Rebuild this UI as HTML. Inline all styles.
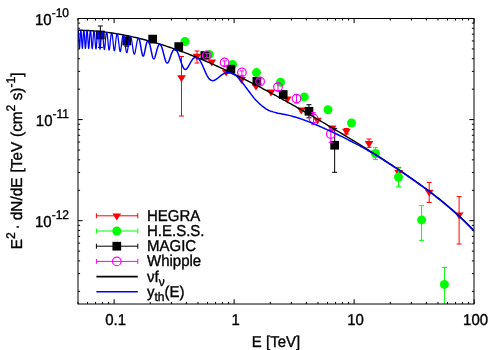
<!DOCTYPE html>
<html><head><meta charset="utf-8"><title>plot</title>
<style>
html,body{margin:0;padding:0;background:#fff;}
svg{display:block;will-change:transform;}
text{font-family:"Liberation Sans",sans-serif;fill:#000;stroke:#000;stroke-width:0.35px;text-rendering:geometricPrecision;}
</style></head><body>
<svg width="500" height="350" viewBox="0 0 500 350">
<rect x="0" y="0" width="500" height="350" fill="#fff"/>

<path d="M78.00,304.0v-2.1M78.00,18.5v2.1M87.50,304.0v-2.1M87.50,18.5v2.1M95.54,304.0v-2.1M95.54,18.5v2.1M102.49,304.0v-2.1M102.49,18.5v2.1M108.63,304.0v-2.1M108.63,18.5v2.1M114.12,304.0v-4.7M114.12,18.5v4.7M150.25,304.0v-2.1M150.25,18.5v2.1M171.38,304.0v-2.1M171.38,18.5v2.1M186.37,304.0v-2.1M186.37,18.5v2.1M198.00,304.0v-2.1M198.00,18.5v2.1M207.50,304.0v-2.1M207.50,18.5v2.1M215.54,304.0v-2.1M215.54,18.5v2.1M222.49,304.0v-2.1M222.49,18.5v2.1M228.63,304.0v-2.1M228.63,18.5v2.1M234.12,304.0v-4.7M234.12,18.5v4.7M270.25,304.0v-2.1M270.25,18.5v2.1M291.38,304.0v-2.1M291.38,18.5v2.1M306.37,304.0v-2.1M306.37,18.5v2.1M318.00,304.0v-2.1M318.00,18.5v2.1M327.50,304.0v-2.1M327.50,18.5v2.1M335.54,304.0v-2.1M335.54,18.5v2.1M342.49,304.0v-2.1M342.49,18.5v2.1M348.63,304.0v-2.1M348.63,18.5v2.1M354.12,304.0v-4.7M354.12,18.5v4.7M390.25,304.0v-2.1M390.25,18.5v2.1M411.38,304.0v-2.1M411.38,18.5v2.1M426.37,304.0v-2.1M426.37,18.5v2.1M438.00,304.0v-2.1M438.00,18.5v2.1M447.50,304.0v-2.1M447.50,18.5v2.1M455.54,304.0v-2.1M455.54,18.5v2.1M462.49,304.0v-2.1M462.49,18.5v2.1M468.63,304.0v-2.1M468.63,18.5v2.1M474.12,304.0v-4.7M474.12,18.5v4.7M78.0,291.37h2.1M474.0,291.37h-2.1M78.0,273.57h2.1M474.0,273.57h-2.1M78.0,260.93h2.1M474.0,260.93h-2.1M78.0,251.14h2.1M474.0,251.14h-2.1M78.0,243.13h2.1M474.0,243.13h-2.1M78.0,236.36h2.1M474.0,236.36h-2.1M78.0,230.50h2.1M474.0,230.50h-2.1M78.0,225.33h2.1M474.0,225.33h-2.1M78.0,220.70h4.7M474.0,220.70h-4.7M78.0,190.27h2.1M474.0,190.27h-2.1M78.0,172.46h2.1M474.0,172.46h-2.1M78.0,159.83h2.1M474.0,159.83h-2.1M78.0,150.04h2.1M474.0,150.04h-2.1M78.0,142.03h2.1M474.0,142.03h-2.1M78.0,135.26h2.1M474.0,135.26h-2.1M78.0,129.40h2.1M474.0,129.40h-2.1M78.0,124.23h2.1M474.0,124.23h-2.1M78.0,119.60h4.7M474.0,119.60h-4.7M78.0,89.17h2.1M474.0,89.17h-2.1M78.0,71.36h2.1M474.0,71.36h-2.1M78.0,58.73h2.1M474.0,58.73h-2.1M78.0,48.93h2.1M474.0,48.93h-2.1M78.0,40.93h2.1M474.0,40.93h-2.1M78.0,34.16h2.1M474.0,34.16h-2.1M78.0,28.30h2.1M474.0,28.30h-2.1M78.0,23.13h2.1M474.0,23.13h-2.1M78.0,18.50h4.7M474.0,18.50h-4.7" stroke="#000" stroke-width="1" fill="none"/>
<text transform="translate(115.62,324.5) scale(1,1.05)" font-size="15.0" text-anchor="middle">0.1</text>
<text transform="translate(235.62,324.5) scale(1,1.05)" font-size="15.0" text-anchor="middle">1</text>
<text transform="translate(355.62,324.5) scale(1,1.05)" font-size="15.0" text-anchor="middle">10</text>
<text transform="translate(475.62,324.5) scale(1,1.05)" font-size="15.0" text-anchor="middle">100</text>
<text transform="translate(69,24.80) scale(1,1.05)" font-size="15.0" text-anchor="end">10<tspan font-size="12.0" dy="-7.5">-10</tspan></text>
<text transform="translate(69,125.90) scale(1,1.05)" font-size="15.0" text-anchor="end">10<tspan font-size="12.0" dy="-7.5">-11</tspan></text>
<text transform="translate(69,227.00) scale(1,1.05)" font-size="15.0" text-anchor="end">10<tspan font-size="12.0" dy="-7.5">-12</tspan></text>
<text transform="translate(276,346.5) scale(1,1.05)" font-size="15.0" text-anchor="middle">E [TeV]</text>
<text transform="translate(21.7,160.8) rotate(-90) scale(1.02,1.05)" font-size="15.0" text-anchor="middle">E<tspan font-size="12.0" dy="-6.7">2</tspan><tspan dy="6.7" dx="-1.6"> · dN/dE</tspan><tspan dx="0.9"> [TeV</tspan><tspan dx="0.7"> (cm</tspan><tspan font-size="12.0" dy="-6.7">2</tspan><tspan dy="6.7"> s)</tspan><tspan font-size="12.0" dy="-6.7">-1</tspan><tspan dy="6.7">]</tspan></text>
<clipPath id="c"><rect x="78" y="18.5" width="396" height="285.5"/></clipPath>
<g clip-path="url(#c)">
<path d="M181.50,56.50V116.00M179.00,56.50h5.0M179.00,116.00h5.0" stroke="#f00" stroke-width="1" fill="none"/>
<path d="M197.00,51.00V63.00M194.50,51.00h5.0M194.50,63.00h5.0" stroke="#f00" stroke-width="1" fill="none"/>
<path d="M346.40,128.50V134.00M343.90,128.50h5.0M343.90,134.00h5.0" stroke="#f00" stroke-width="1" fill="none"/>
<path d="M369.00,139.00V147.30M366.50,139.00h5.0M366.50,147.30h5.0" stroke="#f00" stroke-width="1" fill="none"/>
<path d="M398.70,167.40V177.00M396.20,167.40h5.0M396.20,177.00h5.0" stroke="#f00" stroke-width="1" fill="none"/>
<path d="M429.20,182.40V202.50M426.70,182.40h5.0M426.70,202.50h5.0" stroke="#f00" stroke-width="1" fill="none"/>
<path d="M459.10,196.60V244.00M456.60,196.60h5.0M456.60,244.00h5.0" stroke="#f00" stroke-width="1" fill="none"/>
<path d="M177.15,75.30h8.7L181.50,82.20z" fill="#f00"/>
<path d="M192.65,53.70h8.7L197.00,60.60z" fill="#f00"/>
<path d="M207.45,59.50h8.7L211.80,66.40z" fill="#f00"/>
<path d="M221.85,69.70h8.7L226.20,76.60z" fill="#f00"/>
<path d="M237.15,77.10h8.7L241.50,84.00z" fill="#f00"/>
<path d="M251.65,83.70h8.7L256.00,90.60z" fill="#f00"/>
<path d="M266.65,89.50h8.7L271.00,96.40z" fill="#f00"/>
<path d="M282.95,96.50h8.7L287.30,103.40z" fill="#f00"/>
<path d="M296.95,107.50h8.7L301.30,114.40z" fill="#f00"/>
<path d="M313.15,117.70h8.7L317.50,124.60z" fill="#f00"/>
<path d="M327.65,125.50h8.7L332.00,132.40z" fill="#f00"/>
<path d="M342.05,128.80h8.7L346.40,135.70z" fill="#f00"/>
<path d="M364.65,141.00h8.7L369.00,147.90z" fill="#f00"/>
<path d="M394.35,170.00h8.7L398.70,176.90z" fill="#f00"/>
<path d="M424.85,189.70h8.7L429.20,196.60z" fill="#f00"/>
<path d="M454.75,212.50h8.7L459.10,219.40z" fill="#f00"/>
<path d="M375.50,147.70V159.60M373.00,147.70h5.0M373.00,159.60h5.0" stroke="#0f0" stroke-width="1" fill="none"/>
<path d="M398.50,168.00V186.80M396.00,168.00h5.0M396.00,186.80h5.0" stroke="#0f0" stroke-width="1" fill="none"/>
<path d="M421.60,205.60V240.40M419.10,205.60h5.0M419.10,240.40h5.0" stroke="#0f0" stroke-width="1" fill="none"/>
<path d="M444.40,267.40V304.00M441.90,267.40h5.0" stroke="#0f0" stroke-width="1" fill="none"/>
<circle cx="185" cy="41.5" r="4.5" fill="#0f0"/>
<circle cx="209.2" cy="54.5" r="4.5" fill="#0f0"/>
<circle cx="232.5" cy="64.5" r="4.5" fill="#0f0"/>
<circle cx="256.5" cy="72.6" r="4.5" fill="#0f0"/>
<circle cx="280.5" cy="82.3" r="4.5" fill="#0f0"/>
<circle cx="304.3" cy="96.9" r="4.5" fill="#0f0"/>
<circle cx="328" cy="109.7" r="4.5" fill="#0f0"/>
<circle cx="351.5" cy="123" r="4.5" fill="#0f0"/>
<circle cx="375.5" cy="153.5" r="4.5" fill="#0f0"/>
<circle cx="398.5" cy="177" r="4.5" fill="#0f0"/>
<circle cx="421.6" cy="219.9" r="4.5" fill="#0f0"/>
<circle cx="444.4" cy="284.4" r="4.5" fill="#0f0"/>
<path d="M100.35,26.00V47.40M97.85,26.00h5.0M97.85,47.40h5.0" stroke="#000" stroke-width="1" fill="none"/>
<path d="M126.80,36.00V46.20M124.30,36.00h5.0M124.30,46.20h5.0" stroke="#000" stroke-width="1" fill="none"/>
<path d="M308.95,104.70V117.80M306.45,104.70h5.0M306.45,117.80h5.0" stroke="#000" stroke-width="1" fill="none"/>
<path d="M334.65,128.40V172.30M332.15,128.40h5.0M332.15,172.30h5.0" stroke="#000" stroke-width="1" fill="none"/>
<rect x="96.00" y="30.65" width="8.7" height="8.7" fill="#000"/>
<rect x="122.45" y="36.65" width="8.7" height="8.7" fill="#000"/>
<rect x="148.30" y="34.75" width="8.7" height="8.7" fill="#000"/>
<rect x="174.40" y="42.25" width="8.7" height="8.7" fill="#000"/>
<rect x="200.50" y="51.15" width="8.7" height="8.7" fill="#000"/>
<rect x="226.55" y="64.85" width="8.7" height="8.7" fill="#000"/>
<rect x="252.50" y="76.95" width="8.7" height="8.7" fill="#000"/>
<rect x="278.85" y="90.15" width="8.7" height="8.7" fill="#000"/>
<rect x="304.60" y="106.90" width="8.7" height="8.7" fill="#000"/>
<rect x="330.30" y="140.90" width="8.7" height="8.7" fill="#000"/>
<path d="M206.80,53.40V57.60M204.60,53.40h4.4M204.60,57.60h4.4" stroke="#f0f" stroke-width="1" fill="none"/>
<path d="M224.60,60.90V65.70M222.40,60.90h4.4M222.40,65.70h4.4" stroke="#f0f" stroke-width="1" fill="none"/>
<path d="M241.90,70.90V75.40M239.70,70.90h4.4M239.70,75.40h4.4" stroke="#f0f" stroke-width="1" fill="none"/>
<path d="M260.10,79.00V84.00M257.90,79.00h4.4M257.90,84.00h4.4" stroke="#f0f" stroke-width="1" fill="none"/>
<path d="M278.00,83.60V90.50M275.80,83.60h4.4M275.80,90.50h4.4" stroke="#f0f" stroke-width="1" fill="none"/>
<path d="M296.50,94.50V102.90M294.30,94.50h4.4M294.30,102.90h4.4" stroke="#f0f" stroke-width="1" fill="none"/>
<path d="M313.50,112.50V124.50M311.30,112.50h4.4M311.30,124.50h4.4" stroke="#f0f" stroke-width="1" fill="none"/>
<path d="M330.80,128.00V142.30M328.60,128.00h4.4M328.60,142.30h4.4" stroke="#f0f" stroke-width="1" fill="none"/>
<circle cx="206.8" cy="55.5" r="4.3" fill="none" stroke="#f0f" stroke-width="1.2"/>
<circle cx="224.6" cy="62.4" r="4.3" fill="none" stroke="#f0f" stroke-width="1.2"/>
<circle cx="241.9" cy="72.4" r="4.3" fill="none" stroke="#f0f" stroke-width="1.2"/>
<circle cx="260.1" cy="81.5" r="4.3" fill="none" stroke="#f0f" stroke-width="1.2"/>
<circle cx="278" cy="87" r="4.3" fill="none" stroke="#f0f" stroke-width="1.2"/>
<circle cx="296.5" cy="98.6" r="4.3" fill="none" stroke="#f0f" stroke-width="1.2"/>
<circle cx="313.5" cy="118.5" r="4.3" fill="none" stroke="#f0f" stroke-width="1.2"/>
<circle cx="330.8" cy="134" r="4.3" fill="none" stroke="#f0f" stroke-width="1.2"/>
<path d="M78.00,30.24 L79.99,30.27 L81.98,30.32 L83.97,30.38 L85.96,30.46 L87.95,30.56 L89.94,30.67 L91.93,30.80 L93.92,30.95 L95.91,31.11 L97.90,31.29 L99.89,31.49 L101.88,31.70 L103.87,31.92 L105.86,32.16 L107.85,32.42 L109.84,32.69 L111.83,32.98 L113.82,33.28 L115.81,33.60 L117.80,33.93 L119.79,34.28 L121.78,34.64 L123.77,35.01 L125.76,35.40 L127.75,35.80 L129.74,36.22 L131.73,36.65 L133.72,37.09 L135.71,37.55 L137.70,38.02 L139.69,38.51 L141.68,39.00 L143.67,39.51 L145.66,40.03 L147.65,40.57 L149.64,41.12 L151.63,41.68 L153.62,42.25 L155.61,42.83 L157.60,43.43 L159.59,44.04 L161.58,44.66 L163.57,45.29 L165.56,45.93 L167.55,46.59 L169.54,47.25 L171.53,47.93 L173.52,48.62 L175.51,49.32 L177.50,50.02 L179.49,50.74 L181.48,51.47 L183.47,52.21 L185.46,52.96 L187.45,53.72 L189.44,54.49 L191.43,55.27 L193.42,56.06 L195.41,56.86 L197.40,57.67 L199.39,58.49 L201.38,59.31 L203.37,60.15 L205.36,60.99 L207.35,61.85 L209.34,62.71 L211.33,63.58 L213.32,64.46 L215.31,65.34 L217.30,66.24 L219.29,67.14 L221.28,68.05 L223.27,68.97 L225.26,69.89 L227.25,70.83 L229.24,71.77 L231.23,72.72 L233.22,73.67 L235.21,74.63 L237.20,75.60 L239.19,76.58 L241.18,77.56 L243.17,78.55 L245.16,79.54 L247.15,80.54 L249.14,81.55 L251.13,82.56 L253.12,83.58 L255.11,84.61 L257.10,85.64 L259.09,86.68 L261.08,87.72 L263.07,88.77 L265.06,89.82 L267.05,90.88 L269.04,91.94 L271.03,93.01 L273.02,94.08 L275.01,95.16 L276.99,96.25 L278.98,97.33 L280.97,98.42 L282.96,99.52 L284.95,100.62 L286.94,101.73 L288.93,102.84 L290.92,103.95 L292.91,105.07 L294.90,106.19 L296.89,107.32 L298.88,108.44 L300.87,109.58 L302.86,110.71 L304.85,111.85 L306.84,113.00 L308.83,114.15 L310.82,115.30 L312.81,116.45 L314.80,117.61 L316.79,118.77 L318.78,119.93 L320.77,121.10 L322.76,122.27 L324.75,123.45 L326.74,124.62 L328.73,125.80 L330.72,126.99 L332.71,128.17 L334.70,129.36 L336.69,130.55 L338.68,131.75 L340.67,132.95 L342.66,134.15 L344.65,135.36 L346.64,136.56 L348.63,137.77 L350.62,138.99 L352.61,140.21 L354.60,141.43 L356.59,142.65 L358.58,143.88 L360.57,145.11 L362.56,146.35 L364.55,147.59 L366.54,148.83 L368.53,150.08 L370.52,151.33 L372.51,152.58 L374.50,153.84 L376.49,155.11 L378.48,156.38 L380.47,157.65 L382.46,158.93 L384.45,160.21 L386.44,161.50 L388.43,162.80 L390.42,164.10 L392.41,165.41 L394.40,166.72 L396.39,168.04 L398.38,169.37 L400.37,170.70 L402.36,172.05 L404.35,173.40 L406.34,174.76 L408.33,176.13 L410.32,177.51 L412.31,178.89 L414.30,180.29 L416.29,181.70 L418.28,183.12 L420.27,184.55 L422.26,186.00 L424.25,187.46 L426.24,188.93 L428.23,190.41 L430.22,191.91 L432.21,193.43 L434.20,194.96 L436.19,196.51 L438.18,198.08 L440.17,199.67 L442.16,201.28 L444.15,202.90 L446.14,204.55 L448.13,206.23 L450.12,207.92 L452.11,209.64 L454.10,211.39 L456.09,213.17 L458.08,214.97 L460.07,216.80 L462.06,218.67 L464.05,220.56 L466.04,222.50 L468.03,224.46 L470.02,226.47 L472.01,228.51 L474.00,230.60" stroke="#000" stroke-width="1.4" fill="none" stroke-linejoin="round"/>
<path d="M78.00,30.69 L78.10,30.69 L78.20,30.70 L78.30,31.36 L78.40,32.43 L78.50,33.83 L78.60,35.49 L78.70,37.37 L78.80,39.38 L78.90,41.42 L79.00,43.40 L79.10,45.19 L79.20,46.67 L79.30,47.73 L79.40,48.30 L79.50,48.31 L79.60,47.79 L79.70,46.77 L79.80,45.34 L79.90,43.60 L80.00,41.68 L80.10,39.68 L80.20,37.72 L80.30,35.87 L80.40,34.22 L80.50,32.81 L80.60,31.69 L80.70,30.89 L80.80,30.74 L80.90,30.74 L81.00,30.74 L81.10,31.08 L81.20,31.96 L81.30,33.14 L81.40,34.59 L81.50,36.26 L81.60,38.08 L81.70,40.00 L81.80,41.93 L81.90,43.77 L82.00,45.42 L82.10,46.78 L82.20,47.76 L82.30,48.29 L82.40,48.34 L82.50,47.90 L82.60,47.01 L82.70,45.74 L82.80,44.18 L82.90,42.41 L83.00,40.55 L83.10,38.68 L83.20,36.88 L83.30,35.21 L83.40,33.74 L83.50,32.50 L83.60,31.53 L83.70,30.85 L83.80,30.83 L83.90,30.83 L84.00,30.83 L84.10,31.15 L84.20,31.97 L84.30,33.05 L84.40,34.38 L84.50,35.91 L84.60,37.59 L84.70,39.38 L84.80,41.20 L84.90,42.97 L85.00,44.63 L85.10,46.07 L85.20,47.22 L85.30,48.01 L85.40,48.39 L85.50,48.34 L85.60,47.86 L85.70,46.99 L85.80,45.79 L85.90,44.33 L86.00,42.68 L86.10,40.94 L86.20,39.18 L86.30,37.47 L86.40,35.86 L86.50,34.41 L86.60,33.16 L86.70,32.12 L86.80,31.33 L86.90,30.96 L87.00,30.96 L87.10,30.97 L87.20,30.97 L87.30,31.38 L87.40,32.17 L87.50,33.20 L87.60,34.44 L87.70,35.87 L87.80,37.43 L87.90,39.09 L88.00,40.79 L88.10,42.48 L88.20,44.08 L88.30,45.53 L88.40,46.75 L88.50,47.69 L88.60,48.28 L88.70,48.51 L88.80,48.36 L88.90,47.84 L89.00,46.98 L89.10,45.83 L89.20,44.46 L89.30,42.94 L89.40,41.32 L89.50,39.67 L89.60,38.05 L89.70,36.52 L89.80,35.11 L89.90,33.86 L90.00,32.79 L90.10,31.93 L90.20,31.29 L90.30,31.15 L90.40,31.15 L90.50,31.16 L90.60,31.17 L90.70,31.61 L90.80,32.36 L90.90,33.31 L91.00,34.45 L91.10,35.75 L91.20,37.18 L91.30,38.71 L91.40,40.30 L91.50,41.88 L91.60,43.42 L91.70,44.86 L91.80,46.14 L91.90,47.20 L92.00,48.00 L92.10,48.49 L92.20,48.66 L92.30,48.50 L92.40,48.02 L92.50,47.24 L92.60,46.21 L92.70,44.97 L92.80,43.58 L92.90,42.10 L93.00,40.57 L93.10,39.05 L93.20,37.58 L93.30,36.20 L93.40,34.94 L93.50,33.82 L93.60,32.87 L93.70,32.10 L93.80,31.52 L93.90,31.40 L94.00,31.41 L94.10,31.41 L94.20,31.42 L94.30,31.69 L94.40,32.32 L94.50,33.14 L94.60,34.12 L94.70,35.25 L94.80,36.52 L94.90,37.88 L95.00,39.32 L95.10,40.80 L95.20,42.27 L95.30,43.70 L95.40,45.03 L95.50,46.23 L95.60,47.24 L95.70,48.04 L95.80,48.58 L95.90,48.85 L96.00,48.83 L96.10,48.53 L96.20,47.96 L96.30,47.15 L96.40,46.13 L96.50,44.95 L96.60,43.65 L96.70,42.27 L96.80,40.86 L96.90,39.45 L97.00,38.09 L97.10,36.79 L97.20,35.59 L97.30,34.52 L97.40,33.57 L97.50,32.78 L97.60,32.15 L97.70,31.72 L97.80,31.73 L97.90,31.74 L98.00,31.75 L98.10,31.76 L98.20,32.02 L98.30,32.60 L98.40,33.34 L98.50,34.22 L98.60,35.23 L98.70,36.37 L98.80,37.59 L98.90,38.89 L99.00,40.24 L99.10,41.61 L99.20,42.96 L99.30,44.26 L99.40,45.48 L99.50,46.57 L99.60,47.51 L99.70,48.26 L99.80,48.80 L99.90,49.10 L100.00,49.16 L100.10,48.98 L100.20,48.56 L100.30,47.93 L100.40,47.10 L100.50,46.11 L100.60,45.00 L100.70,43.79 L100.80,42.52 L100.90,41.22 L101.00,39.93 L101.10,38.67 L101.20,37.47 L101.30,36.34 L101.40,35.31 L101.50,34.39 L101.60,33.60 L101.70,32.93 L101.80,32.41 L101.90,32.15 L102.00,32.16 L102.10,32.17 L102.20,32.18 L102.30,32.19 L102.40,32.38 L102.50,32.88 L102.60,33.52 L102.70,34.29 L102.80,35.18 L102.90,36.16 L103.00,37.24 L103.10,38.40 L103.20,39.61 L103.30,40.85 L103.40,42.10 L103.50,43.34 L103.60,44.54 L103.70,45.67 L103.80,46.70 L103.90,47.61 L104.00,48.36 L104.10,48.95 L104.20,49.34 L104.30,49.54 L104.40,49.53 L104.50,49.31 L104.60,48.91 L104.70,48.32 L104.80,47.57 L104.90,46.68 L105.00,45.69 L105.10,44.60 L105.20,43.46 L105.30,42.28 L105.40,41.10 L105.50,39.93 L105.60,38.80 L105.70,37.72 L105.80,36.71 L105.90,35.78 L106.00,34.94 L106.10,34.21 L106.20,33.59 L106.30,33.08 L106.40,32.69 L106.50,32.69 L106.60,32.71 L106.70,32.72 L106.80,32.73 L106.90,32.75 L107.00,32.98 L107.10,33.46 L107.20,34.04 L107.30,34.74 L107.40,35.53 L107.50,36.41 L107.60,37.36 L107.70,38.39 L107.80,39.47 L107.90,40.59 L108.00,41.73 L108.10,42.87 L108.20,43.99 L108.30,45.08 L108.40,46.11 L108.50,47.06 L108.60,47.91 L108.70,48.64 L108.80,49.23 L108.90,49.67 L109.00,49.95 L109.10,50.07 L109.20,50.01 L109.30,49.78 L109.40,49.40 L109.50,48.87 L109.60,48.20 L109.70,47.42 L109.80,46.55 L109.90,45.59 L110.00,44.58 L110.10,43.53 L110.20,42.46 L110.30,41.40 L110.40,40.35 L110.50,39.33 L110.60,38.36 L110.70,37.44 L110.80,36.59 L110.90,35.82 L111.00,35.12 L111.10,34.52 L111.20,34.01 L111.30,33.60 L111.40,33.37 L111.50,33.38 L111.60,33.40 L111.70,33.41 L111.80,33.43 L111.90,33.44 L112.00,33.57 L112.10,33.96 L112.20,34.45 L112.30,35.04 L112.40,35.70 L112.50,36.44 L112.60,37.25 L112.70,38.13 L112.80,39.06 L112.90,40.03 L113.00,41.04 L113.10,42.06 L113.20,43.10 L113.30,44.12 L113.40,45.12 L113.50,46.09 L113.60,47.00 L113.70,47.84 L113.80,48.60 L113.90,49.26 L114.00,49.81 L114.10,50.24 L114.20,50.53 L114.30,50.70 L114.40,50.72 L114.50,50.61 L114.60,50.37 L114.70,50.00 L114.80,49.51 L114.90,48.91 L115.00,48.22 L115.10,47.45 L115.20,46.61 L115.30,45.72 L115.40,44.80 L115.50,43.85 L115.60,42.90 L115.70,41.95 L115.80,41.02 L115.90,40.11 L116.00,39.24 L116.10,38.42 L116.20,37.64 L116.30,36.93 L116.40,36.28 L116.50,35.70 L116.60,35.19 L116.70,34.76 L116.80,34.41 L116.90,34.23 L117.00,34.24 L117.10,34.26 L117.20,34.28 L117.30,34.30 L117.40,34.31 L117.50,34.33 L117.60,34.56 L117.70,34.94 L117.80,35.40 L117.90,35.92 L118.00,36.52 L118.10,37.17 L118.20,37.89 L118.30,38.65 L118.40,39.46 L118.50,40.32 L118.60,41.20 L118.70,42.10 L118.80,43.02 L118.90,43.94 L119.00,44.86 L119.10,45.76 L119.20,46.63 L119.30,47.47 L119.40,48.25 L119.50,48.97 L119.60,49.63 L119.70,50.20 L119.80,50.68 L119.90,51.06 L120.00,51.34 L120.10,51.52 L120.20,51.59 L120.30,51.55 L120.40,51.40 L120.50,51.14 L120.60,50.79 L120.70,50.35 L120.80,49.82 L120.90,49.22 L121.00,48.55 L121.10,47.83 L121.20,47.07 L121.30,46.27 L121.40,45.44 L121.50,44.61 L121.60,43.77 L121.70,42.93 L121.80,42.11 L121.90,41.31 L122.00,40.53 L122.10,39.79 L122.20,39.09 L122.30,38.43 L122.40,37.82 L122.50,37.26 L122.60,36.75 L122.70,36.31 L122.80,35.92 L122.90,35.60 L123.00,35.34 L123.10,35.33 L123.20,35.35 L123.30,35.37 L123.40,35.39 L123.50,35.41 L123.60,35.43 L123.70,35.45 L123.80,35.58 L123.90,35.89 L124.00,36.27 L124.10,36.70 L124.20,37.18 L124.30,37.72 L124.40,38.30 L124.50,38.93 L124.60,39.60 L124.70,40.31 L124.80,41.05 L124.90,41.82 L125.00,42.60 L125.10,43.41 L125.20,44.22 L125.30,45.03 L125.40,45.84 L125.50,46.64 L125.60,47.42 L125.70,48.17 L125.80,48.88 L125.90,49.56 L126.00,50.18 L126.10,50.75 L126.20,51.26 L126.30,51.69 L126.40,52.06 L126.50,52.34 L126.60,52.54 L126.70,52.67 L126.80,52.70 L126.90,52.66 L127.00,52.53 L127.10,52.32 L127.20,52.03 L127.30,51.68 L127.40,51.25 L127.50,50.77 L127.60,50.23 L127.70,49.64 L127.80,49.02 L127.90,48.35 L128.00,47.67 L128.10,46.96 L128.20,46.24 L128.30,45.51 L128.40,44.79 L128.50,44.07 L128.60,43.36 L128.70,42.66 L128.80,41.99 L128.90,41.34 L129.00,40.72 L129.10,40.13 L129.20,39.58 L129.30,39.06 L129.40,38.58 L129.50,38.15 L129.60,37.76 L129.70,37.42 L129.80,37.12 L129.90,36.87 L130.00,36.72 L130.10,36.75 L130.20,36.77 L130.30,36.79 L130.40,36.81 L130.50,36.83 L130.60,36.85 L130.70,36.87 L130.80,36.90 L130.90,37.07 L131.00,37.36 L131.10,37.69 L131.20,38.06 L131.30,38.47 L131.40,38.92 L131.50,39.41 L131.60,39.93 L131.70,40.49 L131.80,41.08 L131.90,41.69 L132.00,42.33 L132.10,42.99 L132.20,43.67 L132.30,44.36 L132.40,45.06 L132.50,45.77 L132.60,46.47 L132.70,47.17 L132.80,47.87 L132.90,48.55 L133.00,49.21 L133.10,49.85 L133.20,50.46 L133.30,51.04 L133.40,51.58 L133.50,52.08 L133.60,52.54 L133.70,52.94 L133.80,53.29 L133.90,53.59 L134.00,53.82 L134.10,54.00 L134.20,54.11 L134.30,54.16 L134.40,54.15 L134.50,54.08 L134.60,53.95 L134.70,53.76 L134.80,53.51 L134.90,53.21 L135.00,52.86 L135.10,52.47 L135.20,52.03 L135.30,51.56 L135.40,51.05 L135.50,50.52 L135.60,49.96 L135.70,49.38 L135.80,48.78 L135.90,48.18 L136.00,47.57 L136.10,46.95 L136.20,46.34 L136.30,45.73 L136.40,45.13 L136.50,44.54 L136.60,43.96 L136.70,43.40 L136.80,42.87 L136.90,42.35 L137.00,41.86 L137.10,41.39 L137.20,40.95 L137.30,40.54 L137.40,40.16 L137.50,39.81 L137.60,39.49 L137.70,39.21 L137.80,38.96 L137.90,38.75 L138.00,38.57 L138.10,38.57 L138.20,38.59 L138.30,38.62" stroke="#00f" stroke-width="1.25" fill="none" stroke-linejoin="round"/>
<path d="M138.30,38.62 L138.40,38.64 L138.50,38.66 L138.60,38.69 L138.70,38.71 L138.80,38.74 L138.90,38.76 L139.00,38.79 L139.10,38.96 L139.20,39.21 L139.30,39.48 L139.40,39.79 L139.50,40.13 L139.60,40.50 L139.70,40.89 L139.80,41.31 L139.90,41.76 L140.00,42.23 L140.10,42.72 L140.20,43.24 L140.30,43.77 L140.40,44.32 L140.50,44.88 L140.60,45.45 L140.70,46.04 L140.80,46.63 L140.90,47.23 L141.00,47.83 L141.10,48.43 L141.20,49.02 L141.30,49.61 L141.40,50.20 L141.50,50.77 L141.60,51.32 L141.70,51.86 L141.80,52.38 L141.90,52.87 L142.00,53.34 L142.10,53.78 L142.20,54.18 L142.30,54.56 L142.40,54.89 L142.50,55.19 L142.60,55.45 L142.70,55.67 L142.80,55.85 L142.90,55.98 L143.00,56.07 L143.10,56.11 L143.20,56.11 L143.30,56.07 L143.40,55.99 L143.50,55.86 L143.60,55.70 L143.70,55.49 L143.80,55.25 L143.90,54.97 L144.00,54.67 L144.10,54.33 L144.20,53.96 L144.30,53.57 L144.40,53.15 L144.50,52.72 L144.60,52.26 L144.70,51.80 L144.80,51.32 L144.90,50.83 L145.00,50.33 L145.10,49.83 L145.20,49.33 L145.30,48.82 L145.40,48.32 L145.50,47.83 L145.60,47.34 L145.70,46.85 L145.80,46.38 L145.90,45.92 L146.00,45.47 L146.10,45.04 L146.20,44.62 L146.30,44.22 L146.40,43.84 L146.50,43.47 L146.60,43.13 L146.70,42.80 L146.80,42.50 L146.90,42.22 L147.00,41.96 L147.10,41.72 L147.20,41.51 L147.30,41.32 L147.40,41.16 L147.50,41.02 L147.60,41.01 L147.70,41.03 L147.80,41.06 L147.90,41.09 L148.00,41.12 L148.10,41.14 L148.20,41.17 L148.30,41.20 L148.40,41.23 L148.50,41.25 L148.60,41.28 L148.70,41.31 L148.80,41.43 L148.90,41.63 L149.00,41.85 L149.10,42.09 L149.20,42.35 L149.30,42.63 L149.40,42.94 L149.50,43.26 L149.60,43.60 L149.70,43.96 L149.80,44.33 L149.90,44.72 L150.00,45.13 L150.10,45.55 L150.20,45.98 L150.30,46.43 L150.40,46.88 L150.50,47.35 L150.60,47.82 L150.70,48.31 L150.80,48.79 L150.90,49.28 L151.00,49.78 L151.10,50.28 L151.20,50.77 L151.30,51.27 L151.40,51.76 L151.50,52.25 L151.60,52.73 L151.70,53.21 L151.80,53.67 L151.90,54.13 L152.00,54.57 L152.10,55.00 L152.20,55.41 L152.30,55.81 L152.40,56.18 L152.50,56.54 L152.60,56.88 L152.70,57.19 L152.80,57.48 L152.90,57.74 L153.00,57.98 L153.10,58.19 L153.20,58.38 L153.30,58.53 L153.40,58.66 L153.50,58.76 L153.60,58.83 L153.70,58.87 L153.80,58.89 L153.90,58.87 L154.00,58.83 L154.10,58.76 L154.20,58.66 L154.30,58.53 L154.40,58.38 L154.50,58.21 L154.60,58.01 L154.70,57.79 L154.80,57.55 L154.90,57.29 L155.00,57.01 L155.10,56.71 L155.20,56.40 L155.30,56.07 L155.40,55.73 L155.50,55.38 L155.60,55.02 L155.70,54.65 L155.80,54.27 L155.90,53.88 L156.00,53.50 L156.10,53.10 L156.20,52.71 L156.30,52.32 L156.40,51.92 L156.50,51.53 L156.60,51.14 L156.70,50.75 L156.80,50.37 L156.90,49.99 L157.00,49.62 L157.10,49.26 L157.20,48.90 L157.30,48.56 L157.40,48.22 L157.50,47.89 L157.60,47.58 L157.70,47.27 L157.80,46.98 L157.90,46.70 L158.00,46.43 L158.10,46.18 L158.20,45.94 L158.30,45.71 L158.40,45.50 L158.50,45.30 L158.60,45.11 L158.70,44.95 L158.80,44.79 L158.90,44.65 L159.00,44.53 L159.10,44.43 L159.20,44.37 L159.30,44.40 L159.40,44.43 L159.50,44.46 L159.60,44.49 L159.70,44.52 L159.80,44.55 L159.90,44.59 L160.00,44.62 L160.10,44.65 L160.20,44.68 L160.30,44.71 L160.40,44.74 L160.50,44.77 L160.60,44.80 L160.70,44.84 L160.80,44.99 L160.90,45.16 L161.00,45.35 L161.10,45.54 L161.20,45.75 L161.30,45.98 L161.40,46.21 L161.50,46.46 L161.60,46.72 L161.70,46.99 L161.80,47.27 L161.90,47.57 L162.00,47.87 L162.10,48.19 L162.20,48.51 L162.30,48.84 L162.40,49.18 L162.50,49.53 L162.60,49.89 L162.70,50.26 L162.80,50.63 L162.90,51.00 L163.00,51.39 L163.10,51.77 L163.20,52.16 L163.30,52.56 L163.40,52.95 L163.50,53.35 L163.60,53.75 L163.70,54.15 L163.80,54.55 L163.90,54.95 L164.00,55.35 L164.10,55.74 L164.20,56.14 L164.30,56.52 L164.40,56.91 L164.50,57.29 L164.60,57.66 L164.70,58.02 L164.80,58.38 L164.90,58.73 L165.00,59.07 L165.10,59.40 L165.20,59.72 L165.30,60.02 L165.40,60.32 L165.50,60.60 L165.60,60.87 L165.70,61.13 L165.80,61.37 L165.90,61.59 L166.00,61.81 L166.10,62.00 L166.20,62.18 L166.30,62.34 L166.40,62.49 L166.50,62.62 L166.60,62.73 L166.70,62.83 L166.80,62.90 L166.90,62.96 L167.00,63.01 L167.10,63.03 L167.20,63.04 L167.30,63.03 L167.40,63.01 L167.50,62.96 L167.60,62.91 L167.70,62.83 L167.80,62.74 L167.90,62.64 L168.00,62.52 L168.10,62.39 L168.20,62.24 L168.30,62.08 L168.40,61.91 L168.50,61.72 L168.60,61.53 L168.70,61.32 L168.80,61.11 L168.90,60.88 L169.00,60.65 L169.10,60.40 L169.20,60.15 L169.30,59.90 L169.40,59.63 L169.50,59.37 L169.60,59.09 L169.70,58.82 L169.80,58.54 L169.90,58.25 L170.00,57.97 L170.10,57.68 L170.20,57.39 L170.30,57.10 L170.40,56.81 L170.50,56.52 L170.60,56.23 L170.70,55.94 L170.80,55.66 L170.90,55.37 L171.00,55.09 L171.10,54.81 L171.20,54.54 L171.30,54.27 L171.40,54.00 L171.50,53.74 L171.60,53.49 L171.70,53.24 L171.80,52.99 L171.90,52.75 L172.00,52.52 L172.10,52.29 L172.20,52.07 L172.30,51.86 L172.40,51.65 L172.50,51.45 L172.60,51.26 L172.70,51.07 L172.80,50.90 L172.90,50.73 L173.00,50.57 L173.10,50.41 L173.20,50.27 L173.30,50.13 L173.40,50.01 L173.50,49.89 L173.60,49.78 L173.70,49.67 L173.80,49.58 L173.90,49.50 L174.00,49.42 L174.10,49.35 L174.20,49.31 L174.30,49.34 L174.40,49.38 L174.50,49.41 L174.60,49.45 L174.70,49.48 L174.80,49.52 L174.90,49.55 L175.00,49.59 L175.10,49.62 L175.20,49.66 L175.30,49.69 L175.40,49.73 L175.50,49.76 L175.60,49.80 L175.70,49.83 L175.80,49.87 L175.90,49.90 L176.00,49.94 L176.10,49.98 L176.20,50.01 L176.30,50.10 L176.40,50.23 L176.50,50.37 L176.60,50.52 L176.70,50.67 L176.80,50.83 L176.90,51.00 L177.00,51.17 L177.10,51.36 L177.20,51.55 L177.30,51.74 L177.40,51.94 L177.50,52.15 L177.60,52.37 L177.70,52.59 L177.80,52.81 L177.90,53.04 L178.00,53.28 L178.10,53.53 L178.20,53.77 L178.30,54.03 L178.40,54.28 L178.50,54.55 L178.60,54.81 L178.70,55.08 L178.80,55.36 L178.90,55.64 L179.00,55.92 L179.10,56.20 L179.20,56.49 L179.30,56.78 L179.40,57.08 L179.50,57.37 L179.60,57.67 L179.70,57.97 L179.80,58.27 L179.90,58.57 L180.00,58.88 L180.10,59.18 L180.20,59.48 L180.30,59.79 L180.40,60.09 L180.50,60.40 L180.60,60.70 L180.70,61.00 L180.80,61.30 L180.90,61.60 L181.00,61.90 L181.10,62.20 L181.20,62.49 L181.30,62.78 L181.40,63.07 L181.50,63.35 L181.60,63.63 L181.70,63.91 L181.80,64.18 L181.90,64.45 L182.00,64.71 L182.10,64.97 L182.20,65.22 L182.30,65.47 L182.40,65.71 L182.50,65.95 L182.60,66.18 L182.70,66.40 L182.80,66.62 L182.90,66.83 L183.00,67.03 L183.10,67.23 L183.20,67.41 L183.30,67.59 L183.40,67.77 L183.50,67.93 L183.60,68.09 L183.70,68.24 L183.80,68.38 L183.90,68.51 L184.00,68.63 L184.10,68.75 L184.20,68.85 L184.30,68.95 L184.40,69.04 L184.50,69.12 L184.60,69.19 L184.70,69.25 L184.80,69.31 L184.90,69.35 L185.00,69.39 L185.10,69.42 L185.20,69.44 L185.30,69.45 L185.40,69.45 L185.50,69.44 L185.60,69.43 L185.70,69.40 L185.80,69.37 L185.90,69.34 L186.00,69.29 L186.10,69.24 L186.20,69.18 L186.30,69.11 L186.40,69.03 L186.50,68.95 L186.60,68.86 L186.70,68.77 L186.80,68.67 L186.90,68.56 L187.00,68.45 L187.10,68.33 L187.20,68.21 L187.30,68.08 L187.40,67.95 L187.50,67.81 L187.60,67.67 L187.70,67.52 L187.80,67.37 L187.90,67.21 L188.00,67.06 L188.10,66.90 L188.20,66.73 L188.30,66.56 L188.40,66.39 L188.50,66.22 L188.60,66.05 L188.70,65.87 L188.80,65.69 L188.90,65.51 L189.00,65.33 L189.10,65.15 L189.20,64.97 L189.30,64.79 L189.40,64.60 L189.50,64.42 L189.60,64.23 L189.70,64.05 L189.80,63.86 L189.90,63.68 L190.00,63.50 L190.10,63.31 L190.20,63.13 L190.30,62.95 L190.40,62.77 L190.50,62.59 L190.60,62.41 L190.70,62.24 L190.80,62.06 L190.90,61.89 L191.00,61.72 L191.10,61.55 L191.20,61.39 L191.30,61.22 L191.40,61.06 L191.50,60.90 L191.60,60.75 L191.70,60.59 L191.80,60.44 L191.90,60.29 L192.00,60.15 L192.10,60.00 L192.20,59.86 L192.30,59.73 L192.40,59.59 L192.50,59.46 L192.60,59.34 L192.70,59.21 L192.80,59.09 L192.90,58.98 L193.00,58.87 L193.10,58.76 L193.20,58.65 L193.30,58.55 L193.40,58.45 L193.50,58.35 L193.60,58.26 L193.70,58.18 L193.80,58.09 L193.90,58.01 L194.00,57.94 L194.10,57.87 L194.20,57.80 L194.30,57.74 L194.40,57.68 L194.50,57.62 L194.60,57.57 L194.70,57.52 L194.80,57.48 L194.90,57.44 L195.00,57.40 L195.10,57.37 L195.20,57.34 L195.30,57.31 L195.40,57.31 L195.50,57.35 L195.60,57.39 L195.70,57.43 L195.80,57.47 L195.90,57.51 L196.00,57.55 L196.10,57.59 L196.20,57.63 L196.30,57.67 L196.40,57.71 L196.50,57.75 L196.60,57.80 L196.70,57.84 L196.80,57.88 L196.90,57.92 L197.00,57.96 L197.10,58.00 L197.20,58.04 L197.30,58.08 L197.40,58.12 L197.50,58.16 L197.60,58.20 L197.70,58.24 L197.80,58.28 L197.90,58.33 L198.00,58.37 L198.10,58.41 L198.20,58.45 L198.30,58.49 L198.40,58.53 L198.50,58.62 L198.60,58.72 L198.70,58.83 L198.80,58.94 L198.90,59.06 L199.00,59.18 L199.10,59.31 L199.20,59.43 L199.30,59.56 L199.40,59.70 L199.50,59.84 L199.60,59.98 L199.70,60.13 L199.80,60.28 L199.90,60.43 L200.00,60.58 L200.10,60.74 L200.20,60.91 L200.30,61.07 L200.40,61.24 L200.50,61.41 L200.60,61.59 L200.70,61.77 L200.80,61.95 L200.90,62.13 L201.00,62.32 L201.10,62.51 L201.20,62.70 L201.30,62.90 L201.40,63.10 L201.50,63.30 L201.60,63.50 L201.70,63.71 L201.80,63.91 L201.90,64.12 L202.00,64.33 L202.10,64.55 L202.20,64.76 L202.30,64.98 L202.40,65.20 L202.50,65.42 L202.60,65.64 L202.70,65.87 L202.80,66.09 L202.90,66.32 L203.00,66.55 L203.10,66.78 L203.20,67.01 L203.30,67.24 L203.40,67.47 L203.50,67.70 L203.60,67.94 L203.70,68.17 L203.80,68.40 L203.90,68.64 L204.00,68.87 L204.10,69.10 L204.20,69.34 L204.30,69.57 L204.40,69.81 L204.50,70.04 L204.60,70.27 L204.70,70.50 L204.80,70.74 L204.90,70.97 L205.00,71.20 L205.10,71.42 L205.20,71.65 L205.30,71.88 L205.40,72.10 L205.50,72.33 L205.60,72.55 L205.70,72.77 L205.80,72.99 L205.90,73.20 L206.00,73.42 L206.10,73.63 L206.20,73.84 L206.30,74.05 L206.40,74.26 L206.50,74.46 L206.60,74.66 L206.70,74.86 L206.80,75.05 L206.90,75.25 L207.00,75.44 L207.10,75.62 L207.20,75.81 L207.30,75.99 L207.40,76.17 L207.50,76.34 L207.60,76.51 L207.70,76.68 L207.80,76.85 L207.90,77.01 L208.00,77.16 L208.10,77.32 L208.20,77.47 L208.30,77.62 L208.40,77.76 L208.50,77.90 L208.60,78.04 L208.70,78.17 L208.80,78.30 L208.90,78.43 L209.00,78.55 L209.10,78.67 L209.20,78.78 L209.30,78.89 L209.40,79.00 L209.50,79.10 L209.60,79.20 L209.70,79.30 L209.80,79.39 L209.90,79.48 L210.00,79.57 L210.10,79.65 L210.20,79.73 L210.30,79.80 L210.40,79.87 L210.50,79.94 L210.60,80.01 L210.70,80.07 L210.80,80.13 L210.90,80.18 L211.00,80.23 L211.10,80.28 L211.20,80.33 L211.30,80.37 L211.40,80.41 L211.50,80.44 L211.60,80.48 L211.70,80.51 L211.80,80.54 L211.90,80.56 L212.00,80.58 L212.10,80.60 L212.20,80.62 L212.30,80.63 L212.40,80.64 L212.50,80.65 L212.60,80.65 L212.70,80.65 L212.80,80.65 L212.90,80.65 L213.00,80.64 L213.10,80.63 L213.20,80.62 L213.30,80.61 L213.40,80.59 L213.50,80.57 L213.60,80.55 L213.70,80.53 L213.80,80.50 L213.90,80.48 L214.00,80.44 L214.10,80.41 L214.20,80.38 L214.30,80.34 L214.40,80.30 L214.50,80.26 L214.60,80.22 L214.70,80.17 L214.80,80.12 L214.90,80.07 L215.00,80.02 L215.10,79.97 L215.20,79.92 L215.30,79.86 L215.40,79.80 L215.50,79.75 L215.60,79.68 L215.70,79.62 L215.80,79.56 L215.90,79.49 L216.00,79.43 L216.10,79.36 L216.20,79.29 L216.30,79.22 L216.40,79.15 L216.50,79.08 L216.60,79.01 L216.70,78.93 L216.80,78.86 L216.90,78.78 L217.00,78.71 L217.10,78.63 L217.20,78.55 L217.30,78.47 L217.40,78.39 L217.50,78.31 L217.60,78.23 L217.70,78.15 L217.80,78.07 L217.90,77.99 L218.00,77.91 L218.10,77.82 L218.20,77.74 L218.30,77.66 L218.40,77.57 L218.50,77.49 L218.60,77.41 L218.70,77.32 L218.80,77.24 L218.90,77.15 L219.00,77.07 L219.10,76.99 L219.20,76.90 L219.30,76.82 L219.40,76.74 L219.50,76.65 L219.60,76.57 L219.70,76.49 L219.80,76.41 L219.90,76.32 L220.00,76.24 L220.10,76.16 L220.20,76.08 L220.30,76.00 L220.40,75.92 L220.50,75.84 L220.60,75.76 L220.70,75.68 L220.80,75.61 L220.90,75.53 L221.00,75.45 L221.10,75.38 L221.20,75.30 L221.30,75.23 L221.40,75.15 L221.50,75.08 L221.60,75.01 L221.70,74.94 L221.80,74.87 L221.90,74.80 L222.00,74.73 L222.10,74.66 L222.20,74.59 L222.30,74.53 L222.40,74.46 L222.50,74.40 L222.60,74.33 L222.70,74.27 L222.80,74.21 L222.90,74.15 L223.00,74.09 L223.10,74.03 L223.20,73.97 L223.30,73.91 L223.40,73.86 L223.50,73.80 L223.60,73.75 L223.70,73.70 L223.80,73.65 L223.90,73.60 L224.00,73.55 L224.10,73.50 L224.20,73.45 L224.30,73.41 L224.40,73.36 L224.50,73.32 L224.60,73.28 L224.70,73.24 L224.80,73.20 L224.90,73.16 L225.00,73.12 L225.10,73.08 L225.20,73.05 L225.30,73.01 L225.40,72.98 L225.50,72.95 L225.60,72.92 L225.70,72.89 L225.80,72.86 L225.90,72.83 L226.00,72.80 L226.10,72.78 L226.20,72.76 L226.30,72.73 L226.40,72.71 L226.50,72.69 L226.60,72.67 L226.70,72.65 L226.80,72.64 L226.90,72.62 L227.00,72.61 L227.10,72.59 L227.20,72.58 L227.30,72.57 L227.40,72.56 L227.50,72.55 L227.60,72.54 L227.70,72.53 L227.80,72.53 L227.90,72.52 L228.00,72.52 L228.10,72.52 L228.20,72.52 L228.30,72.52 L228.40,72.52 L228.50,72.52 L228.60,72.52 L228.70,72.53 L228.80,72.53 L228.90,72.54 L229.00,72.55 L229.10,72.55 L229.20,72.56 L229.30,72.57 L229.40,72.58 L229.50,72.60 L229.60,72.61 L229.70,72.62 L229.80,72.64 L229.90,72.66 L230.00,72.67 L231.00,73.06 L232.00,73.54 L233.00,74.02 L234.00,74.50 L235.00,74.98 L236.00,75.67 L237.00,76.51 L238.00,77.47 L239.00,78.59 L240.00,79.78 L241.00,80.98 L242.00,82.22 L243.00,83.51 L244.00,84.82 L245.00,86.14 L246.00,87.46 L247.00,88.80 L248.00,90.16 L249.00,91.50 L250.00,92.81 L251.00,94.10 L252.00,95.41 L253.00,96.70 L254.00,97.96 L255.00,99.15 L256.00,100.26 L257.00,101.29 L258.00,102.27 L259.00,103.23 L260.00,104.15 L261.00,105.02 L262.00,105.84 L263.00,106.60 L264.00,107.34 L265.00,108.07 L266.00,108.77 L267.00,109.41 L268.00,109.99 L269.00,110.48 L270.00,110.91 L271.00,111.27 L272.00,111.59 L273.00,111.88 L274.00,112.14 L275.00,112.39 L276.00,112.65 L277.00,112.92 L278.00,113.18 L279.00,113.41 L280.00,113.61 L281.00,113.80 L282.00,113.97 L283.00,114.15 L284.00,114.34 L285.00,114.54 L286.00,114.74 L287.00,114.93 L288.00,115.14 L289.00,115.37 L290.00,115.63 L291.00,115.89 L292.00,116.15 L293.00,116.43 L294.00,116.71 L295.00,117.00 L296.00,117.29 L297.00,117.60 L298.00,117.91 L299.00,118.23 L300.00,118.56 L301.00,118.89 L302.00,119.24 L303.00,119.59 L304.00,119.95 L305.00,120.33 L306.00,120.70 L307.00,121.09 L308.00,121.48 L309.00,121.87 L310.00,122.27 L311.00,122.68 L312.00,123.09 L313.00,123.50 L314.00,123.92 L315.00,124.34 L316.00,124.77 L317.00,125.19 L318.00,125.62 L319.00,126.05 L320.00,126.48 L321.00,126.92 L322.00,127.36 L323.00,127.81 L324.00,128.25 L325.00,128.70 L326.00,129.15 L327.00,129.61 L328.00,130.07 L329.00,130.53 L330.00,130.99 L331.00,131.45 L332.00,131.92 L333.00,132.38 L334.00,132.85 L335.00,133.32 L336.00,133.79 L337.00,134.27 L338.00,134.74 L339.00,135.22 L340.00,135.70 L341.00,136.19 L342.00,136.68 L343.00,137.17 L344.00,137.67 L345.00,138.17 L346.00,138.67 L347.00,139.18 L348.00,139.70 L349.00,140.21 L350.00,140.73 L351.00,141.26 L352.00,141.78 L353.00,142.30 L354.00,142.82 L355.00,143.33 L356.00,143.85 L357.00,144.36 L358.00,144.88 L359.00,145.41 L360.00,145.96 L361.00,146.51 L362.00,147.07 L363.00,147.64 L364.00,148.21 L365.00,148.78 L366.00,149.35 L367.00,149.93 L368.00,150.51 L369.00,151.10 L370.00,151.68 L371.00,152.27 L372.00,152.87 L373.00,153.46 L374.00,154.06 L375.00,154.66 L376.00,155.26 L377.00,155.88 L378.00,156.52 L379.00,157.16 L380.00,157.80 L381.00,158.44 L382.00,159.08 L383.00,159.72 L384.00,160.37 L385.00,161.02 L386.00,161.66 L387.00,162.31 L388.00,162.97 L389.00,163.62 L390.00,164.27 L391.00,164.93 L392.00,165.58 L393.00,166.24 L394.00,166.90 L395.00,167.57 L396.00,168.23 L397.00,168.90 L398.00,169.56 L399.00,170.23 L400.00,170.90 L401.00,171.58 L402.00,172.25 L403.00,172.93 L404.00,173.61 L405.00,174.29 L406.00,174.97 L407.00,175.66 L408.00,176.35 L409.00,177.04 L410.00,177.73 L411.00,178.43 L412.00,179.13 L413.00,179.83 L414.00,180.53 L415.00,181.23 L416.00,181.94 L417.00,182.66 L418.00,183.37 L419.00,184.09 L420.00,184.81 L421.00,185.53 L422.00,186.26 L423.00,186.99 L424.00,187.72 L425.00,188.46 L426.00,189.20 L427.00,189.94 L428.00,190.69 L429.00,191.44 L430.00,192.20 L431.00,192.96 L432.00,193.72 L433.00,194.49 L434.00,195.26 L435.00,196.03 L436.00,196.81 L437.00,197.60 L438.00,198.39 L439.00,199.18 L440.00,199.98 L441.00,200.79 L442.00,201.60 L443.00,202.41 L444.00,203.23 L445.00,204.05 L446.00,204.89 L447.00,205.72 L448.00,206.56 L449.00,207.41 L450.00,208.27 L451.00,209.13 L452.00,210.00 L453.00,210.87 L454.00,211.75 L455.00,212.64 L456.00,213.53 L457.00,214.44 L458.00,215.35 L459.00,216.26 L460.00,217.19 L461.00,218.12 L462.00,219.06 L463.00,220.01 L464.00,220.97 L465.00,221.93 L466.00,222.91 L467.00,223.89 L468.00,224.88 L469.00,225.89 L470.00,226.90 L471.00,227.92 L472.00,228.95 L473.00,230.00 L474.00,231.05" stroke="#00f" stroke-width="1.5" fill="none" stroke-linejoin="round"/>
</g>
<rect x="78.0" y="18.5" width="396.0" height="285.5" fill="none" stroke="#000" stroke-width="1"/>
<path d="M96.4,215.80H137.8M96.4,213.30v5M137.8,213.30v5" stroke="#f00" stroke-width="1" fill="none"/>
<path d="M112.45,213.50h8.7L116.80,220.40z" fill="#f00"/>
<path d="M96.4,231.00H137.8M96.4,228.50v5M137.8,228.50v5" stroke="#0f0" stroke-width="1" fill="none"/>
<circle cx="116.8" cy="231.00" r="4.5" fill="#0f0"/>
<path d="M96.4,246.20H137.8M96.4,243.70v5M137.8,243.70v5" stroke="#000" stroke-width="1" fill="none"/>
<rect x="112.45" y="241.85" width="8.7" height="8.7" fill="#000"/>
<path d="M96.4,261.40H137.8M96.4,258.90v5M137.8,258.90v5" stroke="#f0f" stroke-width="1" fill="none"/>
<circle cx="116.8" cy="261.40" r="4.3" fill="none" stroke="#f0f" stroke-width="1.2"/>
<path d="M96.4,276.60H137.8" stroke="#000" stroke-width="1.6" fill="none"/>
<path d="M96.4,291.80H137.8" stroke="#00f" stroke-width="1.6" fill="none"/>
<text transform="translate(147.0,220.80) scale(1,1.05)" font-size="15.0">HEGRA</text>
<text transform="translate(147.0,236.00) scale(1,1.05)" font-size="15.0">H.E.S.S.</text>
<text transform="translate(147.0,251.20) scale(1,1.05)" font-size="15.0">MAGIC</text>
<text transform="translate(147.0,266.40) scale(1,1.05)" font-size="15.0">Whipple</text>
<text transform="translate(147.0,281.60) scale(1,1.05)" font-size="15.0">νf<tspan font-size="12.0" dy="4.4">ν</tspan></text>
<text transform="translate(147.0,296.80) scale(1,1.05)" font-size="15.0">y<tspan font-size="12.0" dy="4.4">th</tspan><tspan dy="-4.4">(E)</tspan></text>
</svg></body></html>
